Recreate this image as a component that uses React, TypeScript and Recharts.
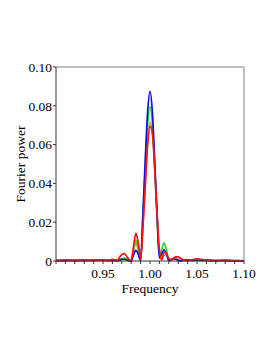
import { LineChart, Line, XAxis, YAxis, ReferenceLine } from 'recharts';

const freq = [
  0.9, 0.91, 0.92, 0.93, 0.94, 0.95, 0.955, 0.96, 0.965, 0.9675, 0.97, 0.9725, 0.975, 0.9775, 0.98,
  0.9825, 0.985, 0.9875, 0.99, 0.9925, 0.995, 0.9975, 1.0, 1.0025, 1.005, 1.0075, 1.01, 1.0125, 1.015,
  1.0175, 1.02, 1.0225, 1.025, 1.0275, 1.03, 1.0325, 1.035, 1.04, 1.045, 1.05, 1.055, 1.06, 1.07, 1.08,
  1.09, 1.1,
];

const blue = [
  0.0002, 0.0004, 0.0002, 0.0005, 0.0003, 0.0006, 0.0002, 0.0005, 0.0001, 0.0004, 0.0008, 0.0009, 0.0006,
  0.0002, 0.0001, 0.0032, 0.0055, 0.0034, 0.0002, 0.025, 0.053, 0.077, 0.0875, 0.077, 0.052, 0.024,
  0.0015, 0.0036, 0.0057, 0.0035, 0.0002, 0.0006, 0.0011, 0.0009, 0.0003, 0.0001, 0.0003, 0.0006, 0.0002,
  0.0007, 0.0003, 0.0004, 0.0002, 0.0003, 0.0002, 0.0001,
];

const green = [
  0.0001, 0.0003, 0.0004, 0.0002, 0.0004, 0.0003, 0.0005, 0.0002, 0.0004, 0.0007, 0.0012, 0.0015, 0.001,
  0.0003, 0.0002, 0.006, 0.0108, 0.0065, 0.0004, 0.023, 0.048, 0.07, 0.0795, 0.071, 0.049, 0.023, 0.002,
  0.0058, 0.0094, 0.0058, 0.0004, 0.0008, 0.0013, 0.001, 0.0004, 0.0002, 0.0004, 0.0003, 0.0005, 0.0004,
  0.0002, 0.0003, 0.0001, 0.0002, 0.0001, 0.0001,
];

const orange = [
  0.0002, 0.0002, 0.0003, 0.0003, 0.0002, 0.0004, 0.0003, 0.0006, 0.0003, 0.0006, 0.001, 0.0014, 0.0009,
  0.0003, 0.0002, 0.005, 0.0092, 0.0055, 0.0003, 0.019, 0.041, 0.062, 0.0715, 0.066, 0.047, 0.023, 0.004,
  0.0006, 0.003, 0.0028, 0.0012, 0.0009, 0.0015, 0.0018, 0.0014, 0.0007, 0.0003, 0.0004, 0.0006, 0.0008,
  0.0005, 0.0003, 0.0002, 0.0002, 0.0001, 0.0001,
];

const red = [
  0.0003, 0.0002, 0.0004, 0.0002, 0.0005, 0.0004, 0.0003, 0.0008, 0.0003, 0.0018, 0.0034, 0.0038, 0.0026,
  0.0008, 0.0002, 0.0075, 0.0143, 0.0095, 0.0008, 0.017, 0.039, 0.06, 0.0695, 0.066, 0.048, 0.025, 0.006,
  0.0008, 0.0045, 0.004, 0.0012, 0.0006, 0.0014, 0.0021, 0.0022, 0.0015, 0.0006, 0.0002, 0.0006, 0.0011,
  0.0008, 0.0003, 0.0002, 0.0003, 0.0001, 0.0001,
];

const xTicks = [
  0.9, 0.91, 0.92, 0.93, 0.94, 0.95, 0.96, 0.97, 0.98, 0.99, 1.0, 1.01, 1.02, 1.03, 1.04, 1.05, 1.06,
  1.07, 1.08, 1.09, 1.1,
];
const xLabelled = [0.95, 1.0, 1.05, 1.1];
const yTicks = [0, 0.02, 0.04, 0.06, 0.08, 0.1];

const data = freq.map((f, i) => ({
  f,
  blue: blue[i],
  green: green[i],
  orange: orange[i],
  red: red[i],
}));

const font = { fontFamily: 'Liberation Serif', fontSize: 13.5, fill: '#000' };

export default function App() {
  return (
    <div style={{ position: 'absolute', left: 0, top: 0, background: '#fff' }}>
      <LineChart width={274} height={355} data={data} margin={{ top: 67, right: 30, bottom: 0, left: 16 }}>
        <XAxis
          dataKey="f"
          type="number"
          domain={[0.9, 1.1]}
          ticks={xTicks}
          interval={0}
          tickSize={3}
          tickMargin={4}
          height={94}
          stroke="#333"
          tick={font}
          tickFormatter={(v: number) => (xLabelled.some((t) => Math.abs(t - v) < 1e-6) ? v.toFixed(2) : '')}
          label={{ value: 'Frequency', position: 'insideTop', offset: 22, ...font }}
        />
        <YAxis
          type="number"
          domain={[0, 0.1]}
          ticks={yTicks}
          width={40}
          tickSize={3}
          tickMargin={1}
          stroke="#333"
          tick={font}
          tickFormatter={(v: number) => (v === 0 ? '0' : v.toFixed(2))}
          label={{
            value: 'Fourier power',
            angle: -90,
            position: 'insideLeft',
            offset: 4,
            ...font,
            style: { textAnchor: 'middle' },
          }}
        />
        <ReferenceLine y={0.1} stroke="#aaa" strokeWidth={1.5} />
        <ReferenceLine x={1.1} stroke="#aaa" strokeWidth={1.5} />
        <Line type="monotone" dataKey="orange" stroke="#e0a060" strokeWidth={1.7} dot={false} isAnimationActive={false} />
        <Line type="monotone" dataKey="green" stroke="#22dd22" strokeWidth={1.7} dot={false} isAnimationActive={false} />
        <Line type="monotone" dataKey="blue" stroke="#1010e8" strokeWidth={1.7} dot={false} isAnimationActive={false} />
        <Line type="monotone" dataKey="red" stroke="#ff1010" strokeWidth={1.7} dot={false} isAnimationActive={false} />
      </LineChart>
    </div>
  );
}
